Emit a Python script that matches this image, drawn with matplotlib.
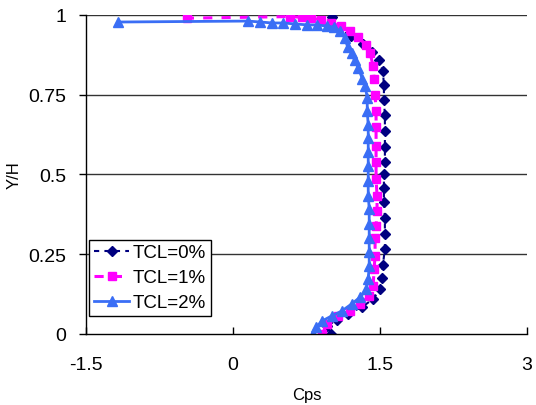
import matplotlib
matplotlib.use('Agg')
import matplotlib.pyplot as plt

plt.rcParams['font.family'] = ['Liberation Sans', 'DejaVu Sans']

# Cps profiles along the height for three TCL levels
yh_0 = [0.0, 0.025, 0.044, 0.063, 0.085, 0.11, 0.14, 0.176, 0.217, 0.267, 0.314, 0.365, 0.415, 0.459,
        0.5, 0.538, 0.585, 0.635, 0.686, 0.733, 0.78, 0.824, 0.858, 0.885, 0.91, 0.935, 0.955, 0.995]
cps_0 = [1.0, 0.96, 1.06, 1.17, 1.32, 1.43, 1.50, 1.52, 1.53, 1.55, 1.55, 1.55, 1.54, 1.54,
         1.54, 1.55, 1.55, 1.55, 1.55, 1.54, 1.54, 1.53, 1.49, 1.42, 1.33, 1.2, 1.08, 1.01]

yh_1 = [0.0, 0.03, 0.057, 0.072, 0.094, 0.12, 0.15, 0.204, 0.245, 0.3, 0.34, 0.387, 0.434, 0.487,
        0.54, 0.59, 0.65, 0.70, 0.75, 0.80, 0.84, 0.88, 0.905, 0.93, 0.95, 0.965, 0.975, 0.985,
        0.99, 0.993, 0.995, 0.99]
cps_1 = [0.91, 0.96, 1.07, 1.19, 1.30, 1.39, 1.43, 1.44, 1.45, 1.45, 1.46, 1.47, 1.47, 1.46,
         1.46, 1.46, 1.46, 1.46, 1.45, 1.44, 1.43, 1.40, 1.36, 1.28, 1.19, 1.1, 1.0, 0.9,
         0.8, 0.7, 0.58, -0.47]

yh_2 = [0.0, 0.022, 0.041, 0.057, 0.072, 0.094, 0.116, 0.14, 0.173, 0.214, 0.258, 0.30, 0.346, 0.393,
        0.434, 0.48, 0.528, 0.572, 0.613, 0.654, 0.698, 0.739, 0.777, 0.80, 0.833, 0.858, 0.88, 0.90,
        0.928, 0.95, 0.962, 0.965, 0.969, 0.969, 0.972, 0.975, 0.975, 0.978, 0.981, 0.978]
cps_2 = [0.82, 0.85, 0.91, 1.01, 1.11, 1.21, 1.30, 1.36, 1.38, 1.39, 1.39, 1.39, 1.39, 1.39,
         1.38, 1.38, 1.38, 1.38, 1.38, 1.38, 1.37, 1.37, 1.35, 1.32, 1.28, 1.24, 1.21, 1.17,
         1.14, 1.09, 1.03, 0.96, 0.86, 0.76, 0.63, 0.51, 0.40, 0.28, 0.15, -1.17]

x_ticks = [-1.5, 0, 1.5, 3]
x_labels = ['-1.5', '0', '1.5', '3']
y_ticks = [0, 0.25, 0.5, 0.75, 1]
y_labels = ['0', '0.25', '0.5', '0.75', '1']

fig = plt.figure(figsize=(5.36, 4.06), dpi=100)
ax = fig.add_axes([0.1604, 0.1749, 0.8228, 0.7857])

# horizontal gridlines
for y in y_ticks[1:]:
    ax.axhline(y, color='#333333', lw=1, zorder=0)

ax.plot(cps_0, yh_0, color='#000080', ls=(0, (2.5, 2.5)), lw=1.5, marker='D', ms=5.5,
        mec='#000080', mfc='#000080', label='TCL=0%')
ax.plot(cps_1, yh_1, color='#FF00FF', ls=(0, (3, 3)), lw=2.2, marker='s', ms=6,
        mec='#FF00FF', mfc='#FF00FF', label='TCL=1%')
ax.plot(cps_2, yh_2, color='#3A6EF5', ls='-', lw=2, marker='^', ms=6.5,
        mec='#3A6EF5', mfc='#3A6EF5', label='TCL=2%')

ax.set_xlim(-1.5, 3)
ax.set_ylim(0, 1)
ax.set_xticks(x_ticks)
ax.set_xticklabels(x_labels)
ax.set_yticks(y_ticks)
ax.set_yticklabels(y_labels)
ax.tick_params(axis='x', direction='in', length=5, width=1, pad=16, labelsize=14)
ax.tick_params(axis='y', direction='out', length=5, width=1, pad=9, labelsize=14)

ax.spines['top'].set_visible(False)
ax.spines['right'].set_visible(False)
ax.spines['left'].set_linewidth(1)
ax.spines['bottom'].set_linewidth(1)

ax.set_xlabel('Cps', fontsize=12, labelpad=10)
ax.set_ylabel('Y/H', fontsize=12, labelpad=5)

leg = ax.legend(loc='lower left', bbox_to_anchor=(0.007, 0.056), borderaxespad=0,
                fontsize=13.5, frameon=True, fancybox=False, edgecolor='black',
                handlelength=1.9, handletextpad=0.2, labelspacing=0.42, borderpad=0.25)
leg.get_frame().set_linewidth(1)
leg.get_frame().set_alpha(1)

fig.savefig('out.png', dpi=100)
